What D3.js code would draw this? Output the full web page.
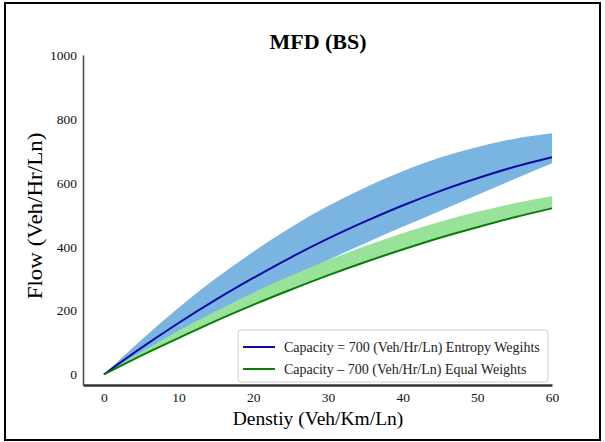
<!DOCTYPE html>
<html>
<head>
<meta charset="utf-8">
<script src="https://cdn.jsdelivr.net/npm/d3@7"></script>
<style>
  body { margin: 0; background: #fff; }
  svg { display: block; }
  svg text { font-family: 'Liberation Serif', 'Times New Roman', Times, 'DejaVu Serif', serif; }
</style>
</head>
<body>
<svg id="chart" width="605" height="442"></svg>
<script>
// density (veh/km/ln)
const density = [0, 5, 10, 15, 20, 25, 30, 35, 40, 45, 50, 55, 60];

// entropy weights: mean flow and band
const entropyFlow  = [0, 83, 161, 234, 302, 366, 425, 479, 529, 574, 614, 650, 680];
const entropyUpper = [0, 108, 209, 301, 384, 460, 527, 585, 636, 679, 712, 738, 755];
const entropyLower = [0, 64, 126, 187, 246, 303, 358, 411, 462, 512, 562, 612, 661];

// equal weights: flow and upper band
const equalFlow  = [0, 59, 114, 168, 218, 265, 310, 352, 391, 428, 461, 492, 520];
const equalUpper = [0, 70, 137, 198, 256, 309, 358, 402, 442, 478, 509, 536, 558];

const xTicks = [0, 10, 20, 30, 40, 50, 60];
const yTicks = [0, 200, 400, 600, 800, 1000];

const legendLabels = [
    'Capacity = 700 (Veh/Hr/Ln) Entropy Wegihts',
    'Capacity \u2013 700 (Veh/Hr/Ln) Equal Weights',
];

const serif = "'Liberation Serif', 'Times New Roman', Times, 'DejaVu Serif', serif";
const svg = d3.select('#chart');

// outer frame
svg.append('rect')
    .attr('x', 5).attr('y', 3)
    .attr('width', 595).attr('height', 437)
    .attr('fill', 'none')
    .attr('stroke', '#000')
    .attr('stroke-width', 2);

const x = d3.scaleLinear().domain([-2.8, 60]).range([83, 552]);
const y = d3.scaleLinear().domain([-33, 1000]).range([385, 55]);

const rows = density.map((k, i) => ({
    k: k,
    ef: entropyFlow[i], eu: entropyUpper[i], el: entropyLower[i],
    qf: equalFlow[i], qu: equalUpper[i],
}));

const area = (lo, hi) => d3.area()
    .x(d => x(d.k))
    .y0(d => y(d[lo]))
    .y1(d => y(d[hi]))
    .curve(d3.curveMonotoneX);

const line = (key) => d3.line()
    .x(d => x(d.k))
    .y(d => y(d[key]))
    .curve(d3.curveMonotoneX);

const g = svg.append('g');

g.append('path').datum(rows)
    .attr('d', area('el', 'eu'))
    .attr('fill', '#7ab5e2');

g.append('path').datum(rows)
    .attr('d', area('qf', 'qu'))
    .attr('fill', '#98e29a');

g.append('path').datum(rows)
    .attr('d', line('ef'))
    .attr('fill', 'none')
    .attr('stroke', '#0c0ca0')
    .attr('stroke-width', 2);

g.append('path').datum(rows)
    .attr('d', line('qf'))
    .attr('fill', 'none')
    .attr('stroke', '#0b7a0b')
    .attr('stroke-width', 2);

// axes
const xAxis = svg.append('g')
    .attr('transform', 'translate(0,385)')
    .call(d3.axisBottom(x).tickValues(xTicks).tickSize(0).tickPadding(7).tickSizeOuter(0));
xAxis.select('.domain').attr('stroke', '#333').attr('stroke-width', 2.5);

const yAxis = svg.append('g')
    .attr('transform', 'translate(83,0)')
    .call(d3.axisLeft(y).tickValues(yTicks).tickFormat(d3.format('d'))
        .tickSize(0).tickPadding(6).tickSizeOuter(0));
yAxis.select('.domain').attr('stroke', '#444').attr('stroke-width', 1.5);

xAxis.attr('font-family', null);
yAxis.attr('font-family', null);
svg.selectAll('g.tick text')
    .style('font-family', serif)
    .style('font-size', '13.5px')
    .attr('fill', '#111');

// titles
svg.append('text')
    .attr('x', 318).attr('y', 49)
    .attr('text-anchor', 'middle')
    .style('font-family', serif)
    .style('font-size', '22px')
    .style('font-weight', 'bold')
    .text('MFD (BS)');

svg.append('text')
    .attr('x', 318).attr('y', 425)
    .attr('text-anchor', 'middle')
    .style('font-family', serif)
    .style('font-size', '19.5px')
    .text('Denstiy (Veh/Km/Ln)');

svg.append('text')
    .attr('transform', 'translate(42,216) rotate(-90) scale(1,0.88)')
    .attr('text-anchor', 'middle')
    .style('font-family', serif)
    .style('font-size', '23px')
    .text('Flow (Veh/Hr/Ln)');

// legend
const legend = svg.append('g');
legend.append('rect')
    .attr('x', 238).attr('y', 330)
    .attr('width', 310).attr('height', 52)
    .attr('rx', 3)
    .attr('fill', '#fff')
    .attr('stroke', '#cfcfcf');

const legendColors = ['#0c0ca0', '#0b7a0b'];
legendLabels.forEach((label, i) => {
    const ly = 347 + i * 22;
    legend.append('line')
        .attr('x1', 243).attr('x2', 275)
        .attr('y1', ly).attr('y2', ly)
        .attr('stroke', legendColors[i])
        .attr('stroke-width', 2);
    legend.append('text')
        .attr('x', 284).attr('y', ly + 4.5)
        .style('font-family', serif)
        .style('font-size', '14px')
        .attr('fill', '#222')
        .text(label);
});
</script>
</body>
</html>
